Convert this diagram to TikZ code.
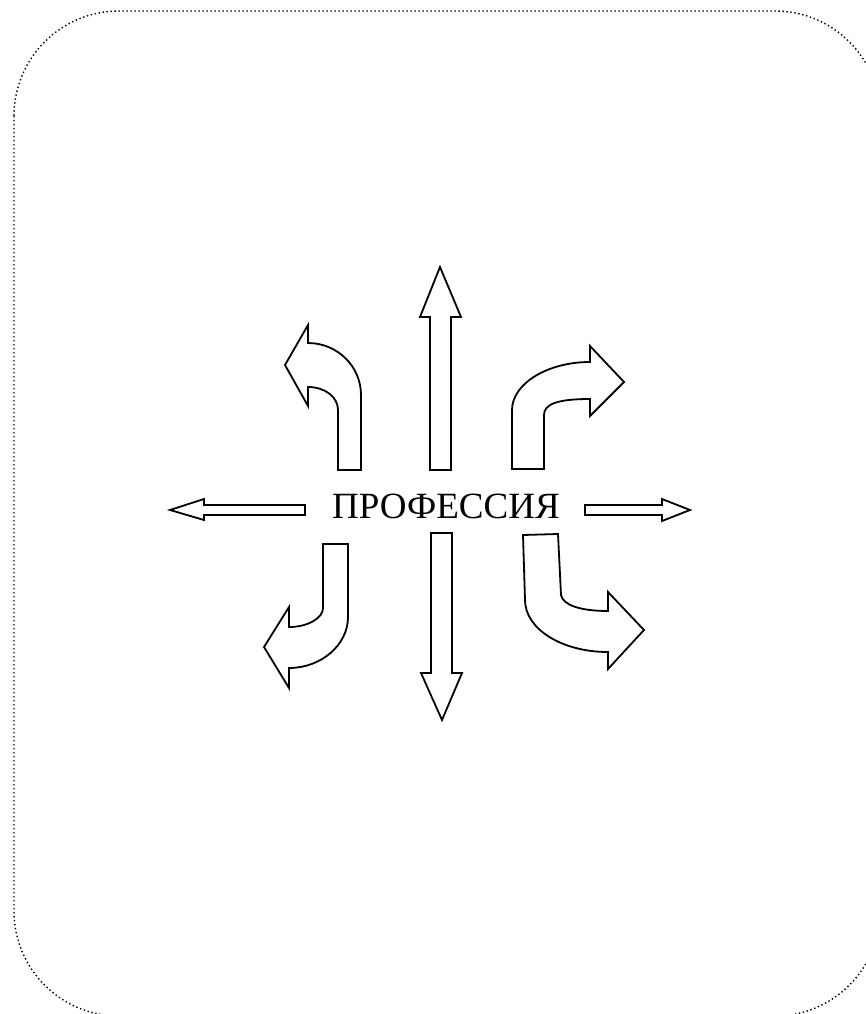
\documentclass[tikz,border=0pt]{standalone}
\usepackage{fontspec}
\setmainfont{Liberation Serif}
\begin{document}
\begin{tikzpicture}[x=1pt,y=-1pt,
  blockarrow/.style={draw=black,line width=1.8pt,fill=white,line join=miter},
  frame/.style={draw=black,line width=1.4pt,dash pattern=on 1.4pt off 2.6pt,rounded corners=105pt}]
\useasboundingbox (0,0) rectangle (866,1014);
\draw[frame] (14,11) rectangle (880,1016);
% text
\node[font=\fontsize{37}{42}\selectfont,inner sep=0pt] (prof) at (446,506) {ПРОФЕССИЯ};
% up
\draw[blockarrow] (430,470) -- (451,470) -- (451,317) -- (461,317) -- (440,267) -- (420,317) -- (430,317) -- cycle;
% down
\draw[blockarrow] (431,533) -- (452,533) -- (452,673) -- (462,673) -- (442,720) -- (421,673) -- (431,673) -- cycle;
% left
\draw[blockarrow] (305,505) -- (305,515) -- (204,515) -- (204,520) -- (170,510) -- (204,499) -- (204,505) -- cycle;
% right
\draw[blockarrow] (585,505) -- (662,505) -- (662,499) -- (690,510) -- (662,521) -- (662,515) -- (585,515) -- cycle;
% left-up
\draw[blockarrow] (338,470) -- (361,470) -- (361,395) .. controls (361,366) and (337,343) .. (308,343) -- (308,325) -- (285,365) -- (308,406) -- (308,387) .. controls (325,387) and (338,397) .. (338,410) -- cycle;
% right-up
\draw[blockarrow] (512,469) -- (544,469) -- (544,415) .. controls (544,405) and (555,399) .. (590,399) -- (590,416) -- (624,382) -- (590,346) -- (590,362) .. controls (547,362) and (512,384) .. (512,410) -- cycle;
% left-down
\draw[blockarrow] (323,544) -- (348,544) -- (348,617) .. controls (348,645) and (321,668) .. (289,668) -- (289,688) -- (264,647) -- (289,607) -- (289,627) .. controls (308,627) and (323,618) .. (323,608) -- cycle;
% right-down
\draw[blockarrow] (523,535) -- (558,534) -- (561,595) .. controls (563,605) and (580,611) .. (608,611) -- (608,592) -- (644,630) -- (608,669) -- (608,652) .. controls (562,652) and (525,629) .. (525,600) -- cycle;
\end{tikzpicture}
\end{document}
